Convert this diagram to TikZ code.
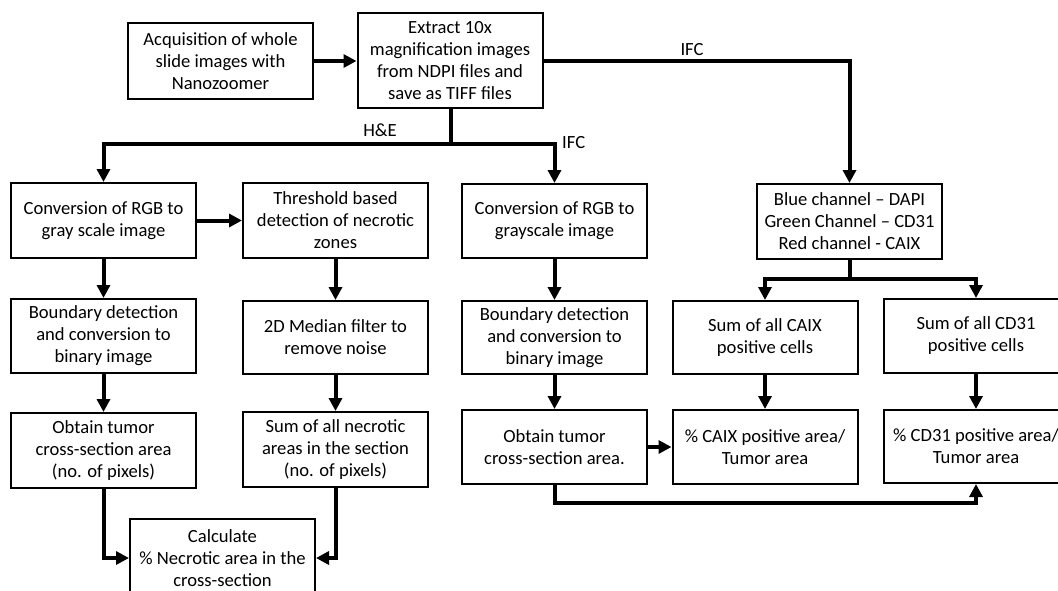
\documentclass[tikz,border=0pt]{standalone}
\usepackage{fontspec}
\setmainfont{Carlito}
\usetikzlibrary{arrows.meta}
\begin{document}
\begin{tikzpicture}[x=1pt,y=-1pt,
  box/.style={draw,line width=2pt,align=center,minimum width=185pt,inner sep=3pt,
    font=\fontsize{18.6}{22}\selectfont},
  conn/.style={line width=4pt,-{Triangle[length=13pt,width=13pt]}},
  plain/.style={line width=4pt},
  lbl/.style={font=\fontsize{18.6}{22}\selectfont,inner sep=0pt}]
\useasboundingbox (0,0) rectangle (1058,590);
\clip (0,0) rectangle (1058,590);
% top row
\node[box,minimum height=76pt] (A) at (220.5,61) {Acquisition of whole\\slide images with\\Nanozoomer};
\node[box,minimum height=95pt] (B) at (450,60.5) {Extract 10x\\magnification images\\from NDPI files and\\save as TIFF files};
% second row
\node[box,minimum height=75pt] (C1) at (103.5,220.5) {Conversion of RGB to\\gray scale image};
\node[box,minimum height=75pt] (C2) at (335.5,220.5) {Threshold based\\detection of necrotic\\zones};
\node[box,minimum height=74pt] (C3) at (554.5,221) {Conversion of RGB to\\grayscale image};
\node[box,minimum height=75pt] (D) at (849.5,221.5) {Blue channel – DAPI\\Green Channel – CD31\\Red channel - CAIX};
% third row
\node[box,minimum height=74pt] (C1b) at (103.5,336) {Boundary detection\\and conversion to\\binary image};
\node[box,minimum height=73pt] (C2b) at (335.5,337.5) {2D Median filter to\\remove noise};
\node[box,minimum height=73pt] (C3b) at (554.5,337.5) {Boundary detection\\and conversion to\\binary image};
\node[box,minimum height=73pt] (E1) at (765,337.5) {Sum of all CAIX\\positive cells};
\node[box,minimum height=74pt] (F1) at (976,336) {Sum of all CD31\\positive cells};
% fourth row
\node[box,minimum height=75pt] (C1c) at (103.5,450.5) {Obtain tumor\\cross-section area\\(no. of pixels)};
\node[box,minimum height=75pt] (C2c) at (335.5,449.5) {Sum of all necrotic\\areas in the section\\(no. of pixels)};
\node[box,minimum height=74pt] (C3c) at (554.5,447) {Obtain tumor\\cross-section area.};
\node[box,minimum height=74pt] (E2) at (765,447) {\% CAIX positive area/\\Tumor area};
\node[box,minimum height=73pt] (F2) at (976,446.5) {\% CD31 positive area/\\Tumor area};
% bottom
\node[box,minimum height=78pt] (Calc) at (222.5,558) {Calculate\\\% Necrotic area in the\\cross-section};
% labels
\node[lbl] (he) at (380,130) {H\&E};
\node[lbl,anchor=west] (ifc1) at (562,143) {IFC};
\node[lbl] (ifc2) at (692,50) {IFC};
% junctions
\coordinate (J) at (451,144);
\coordinate (K) at (849.5,279);
% connectors
\draw[conn] (A.east) -- (A.east -| B.west);
\draw[plain] (B.south -| J) -- (J);
\draw[conn] (J) -| (C1.north);
\draw[conn] (J) -| (C3.north);
\draw[conn] (B.east) -| (D.north);
\draw[conn] (C1.east) -- (C1.east -| C2.west);
\draw[conn] (C1.south) -- (C1b.north);
\draw[conn] (C1b.south) -- (C1c.north);
\draw[conn] (C2.south) -- (C2b.north);
\draw[conn] (C2b.south) -- (C2c.north);
\draw[conn] (C3.south) -- (C3b.north);
\draw[conn] (C3b.south) -- (C3c.north);
\draw[plain] (D.south) -- (K);
\draw[conn] (K) -| (E1.north);
\draw[conn] (K) -| (F1.north);
\draw[conn] (E1.south) -- (E2.north);
\draw[conn] (F1.south) -- (F2.north);
\draw[conn] (C3c.east) -- (E2.west);
\draw[conn] (C3c.south) -- ++(0,18) -| (F2.south);
\draw[conn] (C1c.south) |- (Calc.west);
\draw[conn] (C2c.south) |- (Calc.east);
\end{tikzpicture}
\end{document}
